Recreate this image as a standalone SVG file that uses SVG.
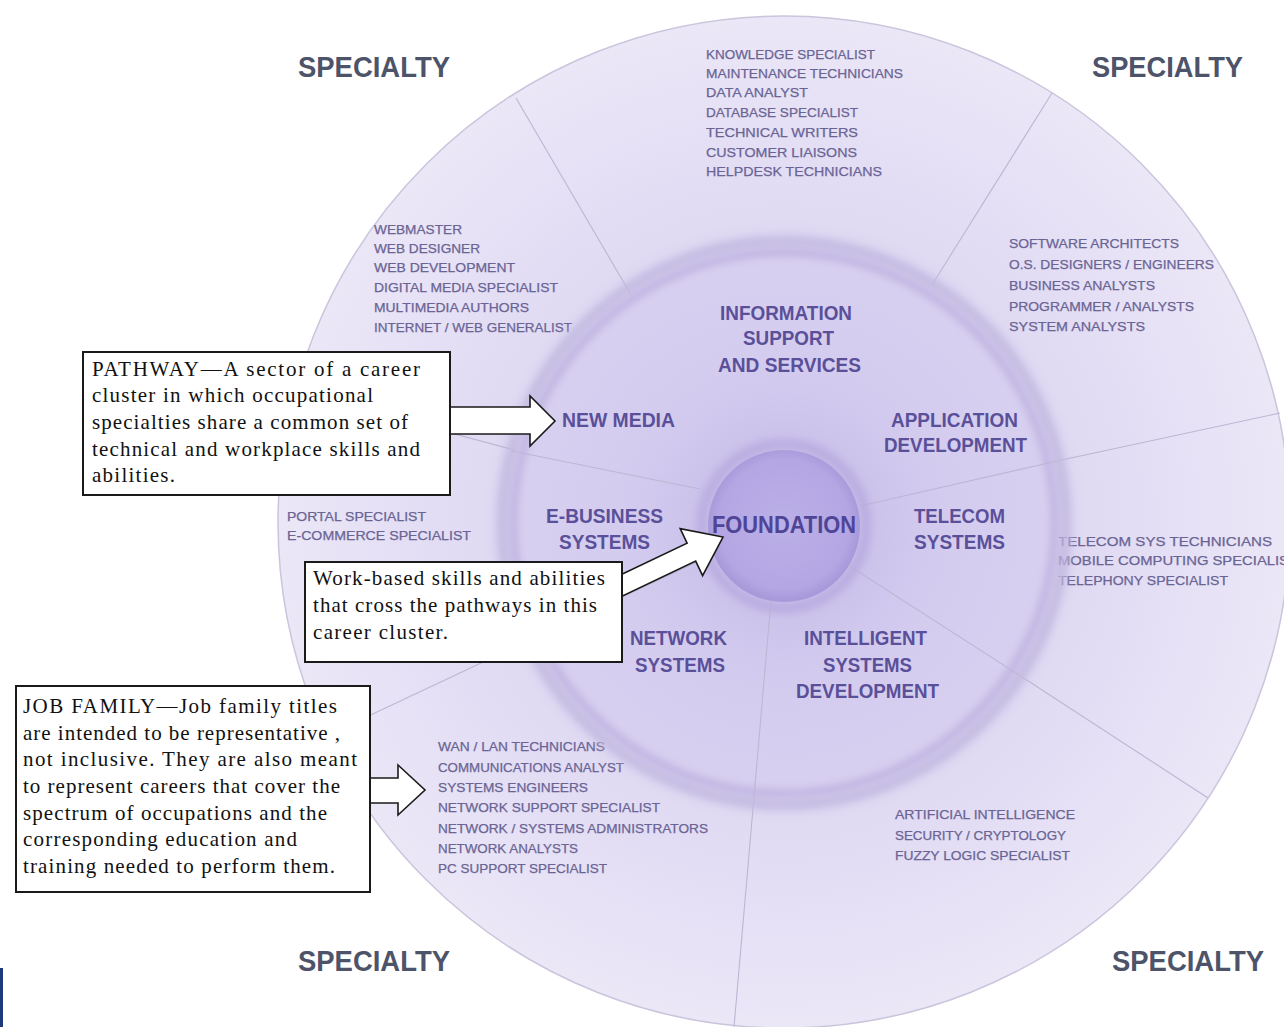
<svg xmlns="http://www.w3.org/2000/svg" width="1284" height="1027" viewBox="0 0 1284 1027">
  <defs>
    <radialGradient id="outerFill" gradientUnits="userSpaceOnUse" cx="784" cy="522" r="506">
      <stop offset="0.5" stop-color="#d9d2f0"/>
      <stop offset="0.6" stop-color="#e0daf3"/>
      <stop offset="1" stop-color="#ebe7f7"/>
    </radialGradient>
    <radialGradient id="midFill" gradientUnits="userSpaceOnUse" cx="784" cy="525" r="275">
      <stop offset="0.3" stop-color="#cbc2eb"/>
      <stop offset="0.6" stop-color="#d4ccef"/>
      <stop offset="1" stop-color="#d8d0f0"/>
    </radialGradient>
    <radialGradient id="coreFill" gradientUnits="userSpaceOnUse" cx="784" cy="524" r="76">
      <stop offset="0" stop-color="#bcb0e8"/>
      <stop offset="0.85" stop-color="#b3a6e3"/>
      <stop offset="1" stop-color="#a89ada"/>
    </radialGradient>
    <filter id="soft" x="-20%" y="-20%" width="140%" height="140%">
      <feGaussianBlur stdDeviation="4"/>
    </filter>
    <style>
      .spoke { stroke: #bdb6d3; stroke-width: 1.1; fill: none; }
      .job { font-family: "Liberation Sans", Arial, sans-serif; font-size: 13px; fill: #6a6494; stroke: #6a6494; stroke-width: 0.25; }
      .path { font-family: "Liberation Sans", Arial, sans-serif; font-size: 21px; font-weight: bold; fill: #5a5099; }
      .spec { font-family: "Liberation Sans", Arial, sans-serif; font-size: 29px; font-weight: bold; fill: #4d5369; }
      .note { font-family: "Liberation Serif", "Times New Roman", serif; font-size: 21px; fill: #111; }
      .box { fill: #ffffff; stroke: #1a1a1a; stroke-width: 2; }
      .arrow { fill: #ffffff; stroke: #1a1a1a; stroke-width: 1.6; stroke-linejoin: miter; }
    </style>
  </defs>

  <rect x="0" y="0" width="1284" height="1027" fill="#ffffff"/>
  <rect x="0" y="968" width="3" height="59" fill="#1d3b7a"/>

  <!-- outer specialty ring -->
  <g id="specialty-ring">
    <circle cx="784" cy="522" r="506" fill="url(#outerFill)" stroke="#cac5dc" stroke-width="1.5"/>
    <line class="spoke" x1="634" y1="300" x2="516" y2="98"/>
    <line class="spoke" x1="932" y1="285" x2="1052" y2="93"/>
    <line class="spoke" x1="1057" y1="461" x2="1280" y2="413"/>
    <line class="spoke" x1="1019" y1="675" x2="1208" y2="798"/>
    <line class="spoke" x1="754" y1="797" x2="734" y2="1027"/>
    <line class="spoke" x1="530" y1="640" x2="326" y2="736"/>
    <line class="spoke" x1="514" y1="450" x2="295" y2="391"/>
  </g>

  <g id="specialty-labels">
    <text class="spec" x="298" y="77" textLength="152" lengthAdjust="spacingAndGlyphs">SPECIALTY</text>
    <text class="spec" x="1092" y="77" textLength="151" lengthAdjust="spacingAndGlyphs">SPECIALTY</text>
    <text class="spec" x="298" y="971" textLength="152" lengthAdjust="spacingAndGlyphs">SPECIALTY</text>
    <text class="spec" x="1112" y="971" textLength="152" lengthAdjust="spacingAndGlyphs">SPECIALTY</text>
  </g>

  <!-- job family lists -->
  <g id="jobs-information">
    <text class="job" x="706" y="59" textLength="169" lengthAdjust="spacingAndGlyphs">KNOWLEDGE SPECIALIST</text>
    <text class="job" x="706" y="78" textLength="197" lengthAdjust="spacingAndGlyphs">MAINTENANCE TECHNICIANS</text>
    <text class="job" x="706" y="97" textLength="102" lengthAdjust="spacingAndGlyphs">DATA ANALYST</text>
    <text class="job" x="706" y="117" textLength="152" lengthAdjust="spacingAndGlyphs">DATABASE SPECIALIST</text>
    <text class="job" x="706" y="137" textLength="152" lengthAdjust="spacingAndGlyphs">TECHNICAL WRITERS</text>
    <text class="job" x="706" y="157" textLength="151" lengthAdjust="spacingAndGlyphs">CUSTOMER LIAISONS</text>
    <text class="job" x="706" y="176" textLength="176" lengthAdjust="spacingAndGlyphs">HELPDESK TECHNICIANS</text>
  </g>
  <g id="jobs-new-media">
    <text class="job" x="374" y="234" textLength="88" lengthAdjust="spacingAndGlyphs">WEBMASTER</text>
    <text class="job" x="374" y="253" textLength="106" lengthAdjust="spacingAndGlyphs">WEB DESIGNER</text>
    <text class="job" x="374" y="272" textLength="141" lengthAdjust="spacingAndGlyphs">WEB DEVELOPMENT</text>
    <text class="job" x="374" y="292" textLength="184" lengthAdjust="spacingAndGlyphs">DIGITAL MEDIA SPECIALIST</text>
    <text class="job" x="374" y="312" textLength="155" lengthAdjust="spacingAndGlyphs">MULTIMEDIA AUTHORS</text>
    <text class="job" x="374" y="332" textLength="198" lengthAdjust="spacingAndGlyphs">INTERNET / WEB GENERALIST</text>
  </g>
  <g id="jobs-application">
    <text class="job" x="1009" y="248" textLength="170" lengthAdjust="spacingAndGlyphs">SOFTWARE ARCHITECTS</text>
    <text class="job" x="1009" y="269" textLength="205" lengthAdjust="spacingAndGlyphs">O.S. DESIGNERS / ENGINEERS</text>
    <text class="job" x="1009" y="290" textLength="146" lengthAdjust="spacingAndGlyphs">BUSINESS ANALYSTS</text>
    <text class="job" x="1009" y="311" textLength="185" lengthAdjust="spacingAndGlyphs">PROGRAMMER / ANALYSTS</text>
    <text class="job" x="1009" y="331" textLength="136" lengthAdjust="spacingAndGlyphs">SYSTEM ANALYSTS</text>
  </g>
  <g id="jobs-ebusiness">
    <text class="job" x="287" y="521" textLength="139" lengthAdjust="spacingAndGlyphs">PORTAL SPECIALIST</text>
    <text class="job" x="287" y="540" textLength="184" lengthAdjust="spacingAndGlyphs">E-COMMERCE SPECIALIST</text>
  </g>
  <g id="jobs-telecom">
    <text class="job" x="1058" y="546" textLength="214" lengthAdjust="spacingAndGlyphs">TELECOM SYS TECHNICIANS</text>
    <text class="job" x="1058" y="565" textLength="240" lengthAdjust="spacingAndGlyphs">MOBILE COMPUTING SPECIALIST</text>
    <text class="job" x="1058" y="585" textLength="170" lengthAdjust="spacingAndGlyphs">TELEPHONY SPECIALIST</text>
  </g>
  <g id="jobs-network">
    <text class="job" x="438" y="751" textLength="167" lengthAdjust="spacingAndGlyphs">WAN / LAN TECHNICIANS</text>
    <text class="job" x="438" y="772" textLength="186" lengthAdjust="spacingAndGlyphs">COMMUNICATIONS ANALYST</text>
    <text class="job" x="438" y="792" textLength="150" lengthAdjust="spacingAndGlyphs">SYSTEMS ENGINEERS</text>
    <text class="job" x="438" y="812" textLength="222" lengthAdjust="spacingAndGlyphs">NETWORK SUPPORT SPECIALIST</text>
    <text class="job" x="438" y="833" textLength="270" lengthAdjust="spacingAndGlyphs">NETWORK / SYSTEMS ADMINISTRATORS</text>
    <text class="job" x="438" y="853" textLength="140" lengthAdjust="spacingAndGlyphs">NETWORK ANALYSTS</text>
    <text class="job" x="438" y="873" textLength="169" lengthAdjust="spacingAndGlyphs">PC SUPPORT SPECIALIST</text>
  </g>
  <g id="jobs-intelligent">
    <text class="job" x="895" y="819" textLength="180" lengthAdjust="spacingAndGlyphs">ARTIFICIAL INTELLIGENCE</text>
    <text class="job" x="895" y="840" textLength="171" lengthAdjust="spacingAndGlyphs">SECURITY / CRYPTOLOGY</text>
    <text class="job" x="895" y="860" textLength="175" lengthAdjust="spacingAndGlyphs">FUZZY LOGIC SPECIALIST</text>
  </g>

  <!-- pathway disc -->
  <g id="pathway-disc">
    <circle cx="784" cy="523" r="282" fill="none" stroke="#c3bae0" stroke-width="10" filter="url(#soft)"/>
    <circle cx="784" cy="523" r="275" fill="url(#midFill)"/>
    <circle cx="784" cy="523" r="271" fill="none" stroke="#bcb1df" stroke-width="8" filter="url(#soft)"/>
    <line class="spoke" x1="700" y1="489" x2="512" y2="451"/>
    <line class="spoke" x1="860" y1="506" x2="1057" y2="461"/>
    <line class="spoke" x1="848" y1="565" x2="1019" y2="675"/>
    <line class="spoke" x1="771" y1="600" x2="754" y2="797"/>
    <line class="spoke" x1="712" y1="555" x2="530" y2="640"/>
  </g>

  <g id="pathway-labels">
    <text class="path" x="720" y="320" textLength="132" lengthAdjust="spacingAndGlyphs">INFORMATION</text>
    <text class="path" x="743" y="345" textLength="91" lengthAdjust="spacingAndGlyphs">SUPPORT</text>
    <text class="path" x="718" y="372" textLength="143" lengthAdjust="spacingAndGlyphs">AND SERVICES</text>
    <text class="path" x="562" y="427" textLength="113" lengthAdjust="spacingAndGlyphs">NEW MEDIA</text>
    <text class="path" x="891" y="427" textLength="127" lengthAdjust="spacingAndGlyphs">APPLICATION</text>
    <text class="path" x="884" y="452" textLength="143" lengthAdjust="spacingAndGlyphs">DEVELOPMENT</text>
    <text class="path" x="546" y="523" textLength="117" lengthAdjust="spacingAndGlyphs">E-BUSINESS</text>
    <text class="path" x="559" y="549" textLength="91" lengthAdjust="spacingAndGlyphs">SYSTEMS</text>
    <text class="path" x="914" y="523" textLength="91" lengthAdjust="spacingAndGlyphs">TELECOM</text>
    <text class="path" x="914" y="549" textLength="91" lengthAdjust="spacingAndGlyphs">SYSTEMS</text>
    <text class="path" x="630" y="645" textLength="97" lengthAdjust="spacingAndGlyphs">NETWORK</text>
    <text class="path" x="635" y="672" textLength="90" lengthAdjust="spacingAndGlyphs">SYSTEMS</text>
    <text class="path" x="804" y="645" textLength="123" lengthAdjust="spacingAndGlyphs">INTELLIGENT</text>
    <text class="path" x="823" y="672" textLength="89" lengthAdjust="spacingAndGlyphs">SYSTEMS</text>
    <text class="path" x="796" y="698" textLength="143" lengthAdjust="spacingAndGlyphs">DEVELOPMENT</text>
  </g>

  <!-- foundation core -->
  <g id="foundation">
    <circle cx="784" cy="526" r="82" fill="none" stroke="#b7abdf" stroke-width="10" filter="url(#soft)"/>
    <circle cx="784" cy="526" r="76" fill="url(#coreFill)"/>
    <text x="712" y="533" font-family="Liberation Sans, Arial, sans-serif" font-size="24" font-weight="bold" fill="#4f4597" textLength="144" lengthAdjust="spacingAndGlyphs">FOUNDATION</text>
  </g>

  <!-- block arrows -->
  <g id="connectors">
    <polygon class="arrow" points="450,407 530,407 530,396 555,421 530,446 530,434 450,434"/>
    <polygon class="arrow" points="607.7,581 687.1,543.1 680.2,528.7 723,537 702.6,575.6 695.7,561.1 616.3,599"/>
    <polygon class="arrow" points="370,778 398,778 398,765 425,790 398,815 398,803 370,803"/>
  </g>

  <!-- callout boxes -->
  <g id="note-pathway">
    <rect class="box" x="83" y="352" width="367" height="143"/>
    <text class="note" x="92" y="376" textLength="328" lengthAdjust="spacing">PATHWAY—A sector of a career</text>
    <text class="note" x="92" y="402" textLength="281" lengthAdjust="spacing">cluster in which occupational</text>
    <text class="note" x="92" y="429" textLength="316" lengthAdjust="spacing">specialties share a common set of</text>
    <text class="note" x="92" y="456" textLength="328" lengthAdjust="spacing">technical and workplace skills and</text>
    <text class="note" x="92" y="482" textLength="83" lengthAdjust="spacing">abilities.</text>
  </g>
  <g id="note-foundation">
    <rect class="box" x="305" y="562" width="317" height="100"/>
    <text class="note" x="313" y="585" textLength="292" lengthAdjust="spacing">Work-based skills and abilities</text>
    <text class="note" x="313" y="612" textLength="284" lengthAdjust="spacing">that cross the pathways in this</text>
    <text class="note" x="313" y="639" textLength="135" lengthAdjust="spacing">career cluster.</text>
  </g>
  <g id="note-job-family">
    <rect class="box" x="16" y="686" width="354" height="206"/>
    <text class="note" x="23" y="713" textLength="314" lengthAdjust="spacing">JOB FAMILY—Job family titles</text>
    <text class="note" x="23" y="740" textLength="317" lengthAdjust="spacing">are intended to be representative ,</text>
    <text class="note" x="23" y="766" textLength="334" lengthAdjust="spacing">not inclusive.  They are also meant</text>
    <text class="note" x="23" y="793" textLength="317" lengthAdjust="spacing">to represent careers that cover the</text>
    <text class="note" x="23" y="820" textLength="304" lengthAdjust="spacing">spectrum of occupations and the</text>
    <text class="note" x="23" y="846" textLength="274" lengthAdjust="spacing">corresponding education and</text>
    <text class="note" x="23" y="873" textLength="312" lengthAdjust="spacing">training needed to perform them.</text>
  </g>
</svg>
